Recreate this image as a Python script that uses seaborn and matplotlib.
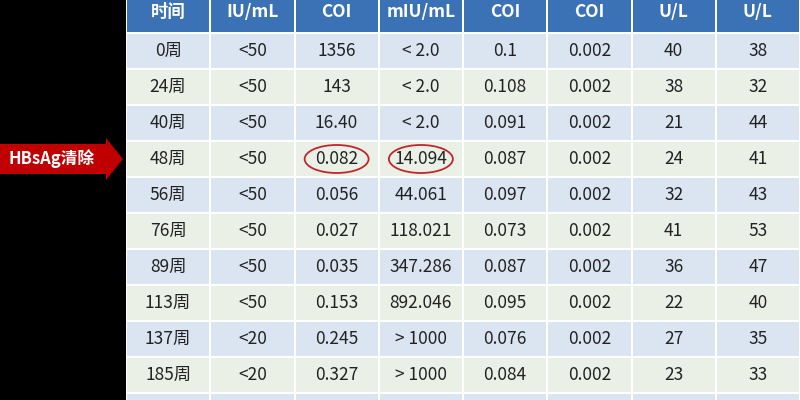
import numpy as np
import matplotlib
matplotlib.use("Agg")
import matplotlib.pyplot as plt
import seaborn as sns
from matplotlib.colors import ListedColormap
from matplotlib.patches import Ellipse, Polygon

sns.set_style("white")
plt.rcParams['font.family'] = ['Noto Sans CJK SC', 'DejaVu Sans']

# table content
header_top = ["", "HBV DNA", "HBsAg", "抗-HBs", "HBeAg", "抗-HBe", "ALT", "AST"]
header_bottom = ["时间", "IU/mL", "COI", "mIU/mL", "COI", "COI", "U/L", "U/L"]
weeks = ["0周", "24周", "40周", "48周", "56周", "76周", "89周", "113周", "137周", "185周"]
hbv_dna = ["<50", "<50", "<50", "<50", "<50", "<50", "<50", "<50", "<20", "<20"]
hbsag = ["1356", "143", "16.40", "0.082", "0.056", "0.027", "0.035", "0.153", "0.245", "0.327"]
anti_hbs = ["< 2.0", "< 2.0", "< 2.0", "14.094", "44.061", "118.021", "347.286", "892.046", "> 1000", "> 1000"]
hbeag = ["0.1", "0.108", "0.091", "0.087", "0.097", "0.073", "0.087", "0.095", "0.076", "0.084"]
anti_hbe = ["0.002"] * 10
alt = ["40", "38", "21", "24", "32", "41", "36", "22", "27", "23"]
ast = ["38", "32", "44", "41", "43", "53", "47", "40", "35", "33"]
circled = [(3, 2), (3, 3)]  # (row, column) of the red rings

columns = [weeks, hbv_dna, hbsag, anti_hbs, hbeag, anti_hbe, alt, ast]
n_rows = len(weeks)
n_cols = len(columns)

# row shading: 0 = header, 1 = blue, 2 = green-grey ; one extra row cut off at the bottom
shade = np.zeros((n_rows + 2, n_cols))
for r in range(1, n_rows + 2):
    shade[r, :] = 1 if r % 2 == 1 else 2
cmap = ListedColormap(["#3a72b5", "#dbe5f1", "#ebf0e6"])

fig = plt.figure(figsize=(8, 4), dpi=100, facecolor="black")
row_h = 36
top_px = -3
left_px = 126
tab_h = row_h * (n_rows + 2)
ax = fig.add_axes([left_px / 800, (400 - top_px - tab_h) / 400, (800 - left_px) / 800, tab_h / 400])
sns.heatmap(shade, cmap=cmap, vmin=-0.5, vmax=2.5, cbar=False, linewidths=1.2,
            linecolor="white", ax=ax, xticklabels=False, yticklabels=False)

for c in range(n_cols):
    ax.text(c + 0.5, 0.42, header_bottom[c], ha="center", va="center",
            color="white", fontsize=12.5, fontweight="bold")
    # top header line is mostly above the picture, as in the original crop
    ax.text(c + 0.5, -0.2, header_top[c], ha="center", va="center",
            color="white", fontsize=12.5, fontweight="bold", clip_on=False)
    for r in range(n_rows):
        ax.text(c + 0.5, r + 1.5, columns[c][r], ha="center", va="center",
                color="#222222", fontsize=12.5)

# overlay in pixel coordinates for the callout and the rings
ov = fig.add_axes([0, 0, 1, 1])
ov.set_xlim(0, 800)
ov.set_ylim(400, 0)
ov.axis("off")
ov.patch.set_alpha(0)

col_w = (800 - left_px) / n_cols
for r, c in circled:
    cx = left_px + (c + 0.5) * col_w
    cy = top_px + (r + 1.5) * row_h
    ov.add_patch(Ellipse((cx, cy), 64, 28, fill=False, edgecolor="#c0262c", linewidth=1.3))

arrow_y = top_px + 4.5 * row_h
ov.add_patch(Polygon([[0, arrow_y - 15], [106, arrow_y - 15], [106, arrow_y - 21],
                      [123, arrow_y], [106, arrow_y + 21], [106, arrow_y + 15],
                      [0, arrow_y + 15]], closed=True, facecolor="#c00000", edgecolor="none"))
ov.text(52, arrow_y, "HBsAg清除", ha="center", va="center", color="white",
        fontsize=12, fontweight="bold")

fig.savefig("out.png", dpi=100, facecolor="black")
